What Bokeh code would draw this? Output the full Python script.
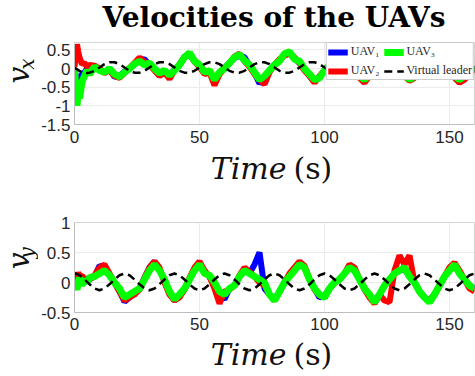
import math
from bokeh.plotting import figure
from bokeh.models import Legend, LegendItem, FixedTicker, Range1d
from bokeh.layouts import column, row
from bokeh.core.properties import value
from bokeh.embed import file_html
from bokeh.resources import INLINE

# ---------------- data ----------------
time_s = [0, 0.5, 1, 1.5, 2, 3, 4, 5, 6,
          8, 10, 12, 14, 16, 18,
          20, 22, 24, 26, 28, 30, 32, 34, 36, 38,
          40, 42, 44, 46, 48, 50, 52, 54, 56, 58,
          60, 62, 64, 66, 68, 70, 72, 74, 76, 78,
          80, 82, 84, 86, 88, 90, 92, 94, 96, 98,
          100, 102, 104, 106, 108, 110, 112, 114, 116, 118,
          120, 122, 124, 126, 128, 130, 132, 134, 136, 138,
          140, 142, 144, 146, 148, 150, 152, 154, 156, 158,
          160]

vx_uav1 = [0.0, -0.2, -0.4, -0.3, -0.3, -0.15, -0.1, 0.0, -0.05,
           0.05, -0.02, -0.1, -0.02, -0.22, -0.2,
           -0.08, 0.0, 0.12, 0.22, 0.25, 0.1, 0.0, -0.15, -0.08, -0.2,
           -0.02, 0.1, 0.32, 0.38, 0.2, 0.05, -0.12, -0.08, -0.35, -0.12,
           0.02, 0.15, 0.28, 0.35, 0.3, 0.08, -0.12, -0.4, -0.25, -0.05,
           0.1, 0.22, 0.38, 0.4, 0.28, 0.15, -0.02, -0.2, -0.35, -0.22,
           -0.05, 0.1, 0.28, 0.3, 0.18, 0.02, -0.08, -0.22, -0.32, -0.18,
           0.0, 0.15, 0.28, 0.28, 0.12, 0.0, -0.18, -0.3, -0.22, -0.05,
           0.1, 0.25, 0.32, 0.2, 0.02, -0.08, -0.22, -0.33, -0.25, -0.12,
           0.02]
vx_uav2 = [0.05, 0.35, 0.65, 0.45, 0.3, 0.12, 0.15, 0.05, 0.1,
           0.08, 0.0, -0.12, -0.05, -0.2, -0.25,
           -0.12, 0.02, 0.15, 0.3, 0.18, 0.1, -0.05, -0.2, -0.1, -0.28,
           -0.05, 0.12, 0.3, 0.4, 0.18, 0.05, -0.15, -0.1, -0.45, -0.15,
           0.0, 0.15, 0.32, 0.4, 0.2, 0.05, -0.15, -0.3, -0.42, -0.1,
           0.1, 0.25, 0.35, 0.4, 0.3, 0.15, -0.05, -0.2, -0.38, -0.2,
           -0.05, 0.1, 0.3, 0.35, 0.15, 0.0, -0.1, -0.25, -0.38, -0.2,
           0.0, 0.15, 0.3, 0.3, 0.1, 0.0, -0.2, -0.33, -0.25, -0.05,
           0.1, 0.25, 0.35, 0.2, 0.0, -0.1, -0.25, -0.38, -0.3, -0.15,
           0.0]
vx_uav3 = [0.0, -0.5, -1.0, -0.55, -0.8, -0.35, -0.2, -0.05, -0.15,
           0.05, -0.05, -0.1, 0.0, -0.15, -0.22,
           -0.1, 0.0, 0.12, 0.2, 0.1, 0.15, 0.0, -0.12, -0.05, -0.18,
           -0.05, 0.1, 0.3, 0.42, 0.2, 0.1, -0.1, -0.05, -0.3, -0.1,
           0.0, 0.15, 0.3, 0.38, 0.22, 0.1, -0.1, -0.3, -0.2, -0.05,
           0.1, 0.2, 0.4, 0.45, 0.25, 0.2, 0.0, -0.15, -0.3, -0.25,
           -0.05, 0.1, 0.25, 0.3, 0.2, 0.05, -0.05, -0.2, -0.3, -0.15,
           0.0, 0.15, 0.3, 0.25, 0.15, 0.0, -0.15, -0.3, -0.2, -0.05,
           0.1, 0.25, 0.3, 0.2, 0.05, -0.05, -0.2, -0.3, -0.2, -0.1,
           0.05]
vx_leader = [0.03, 0.01, -0.02, -0.04, -0.06, -0.09, -0.11, -0.12, -0.11,
             -0.06, 0.03, 0.12, 0.17, 0.17, 0.12,
             0.03, -0.06, -0.11, -0.11, -0.06, 0.03, 0.12, 0.17, 0.17, 0.12,
             0.03, -0.06, -0.11, -0.11, -0.06, 0.03, 0.12, 0.17, 0.17, 0.12,
             0.03, -0.06, -0.11, -0.11, -0.06, 0.03, 0.12, 0.17, 0.17, 0.12,
             0.03, -0.06, -0.11, -0.11, -0.06, 0.03, 0.12, 0.17, 0.17, 0.12,
             0.03, -0.06, -0.11, -0.11, -0.06, 0.03, 0.12, 0.17, 0.17, 0.12,
             0.03, -0.06, -0.11, -0.11, -0.06, 0.03, 0.12, 0.17, 0.17, 0.12,
             0.03, -0.06, -0.11, -0.11, -0.06, 0.03, 0.12, 0.17, 0.17, 0.12,
             0.03]

vy_uav1 = [0.1, 0.05, 0.0, 0.1, 0.05, 0.05, 0.0, 0.05, 0.05,
           0.1, 0.28, 0.25, 0.12, 0.0, -0.15,
           -0.32, -0.25, -0.18, -0.1, 0.08, 0.25, 0.35, 0.22, 0.02, -0.18,
           -0.3, -0.22, -0.12, 0.05, 0.22, 0.32, 0.18, 0.1, -0.05, -0.2,
           -0.28, -0.1, -0.05, 0.1, 0.22, 0.15, 0.3, 0.5, -0.1, -0.2,
           -0.28, -0.15, 0.0, 0.12, 0.22, 0.33, 0.25, 0.05, -0.1, -0.25,
           -0.22, -0.1, 0.0, 0.05, 0.15, 0.28, 0.2, 0.05, -0.1, -0.22,
           -0.3, -0.2, -0.05, 0.05, 0.15, 0.2, 0.22, 0.1, 0.0, -0.15,
           -0.25, -0.3, -0.2, -0.05, 0.1, 0.2, 0.3, 0.15, 0.05, -0.05,
           -0.1]
vy_uav2 = [0.15, 0.1, 0.05, 0.17, 0.1, 0.12, 0.02, 0.08, 0.05,
           0.12, 0.25, 0.3, 0.15, 0.0, -0.15,
           -0.3, -0.25, -0.2, -0.12, 0.08, 0.25, 0.35, 0.25, 0.0, -0.2,
           -0.3, -0.25, -0.12, 0.08, 0.25, 0.35, 0.2, 0.1, -0.1, -0.35,
           -0.15, -0.12, -0.05, 0.12, 0.25, 0.18, 0.1, 0.0, -0.05, -0.2,
           -0.3, -0.15, 0.0, 0.15, 0.25, 0.35, 0.28, 0.05, -0.12, -0.22,
           -0.25, -0.1, 0.0, 0.05, 0.15, 0.3, 0.25, 0.05, -0.12, -0.25,
           -0.35, -0.2, -0.3, -0.33, 0.2, 0.45, 0.3, 0.45, 0.0, -0.15,
           -0.25, -0.3, -0.2, -0.05, 0.1, 0.25, 0.33, 0.2, 0.05, -0.1,
           -0.15]
vy_uav3 = [0.05, -0.05, -0.12, 0.0, 0.08, -0.05, 0.05, 0.0, 0.08,
           0.1, 0.15, 0.2, 0.12, 0.0, -0.1,
           -0.25, -0.2, -0.15, -0.1, 0.05, 0.2, 0.3, 0.2, 0.05, -0.15,
           -0.28, -0.2, -0.1, 0.05, 0.2, 0.3, 0.15, 0.12, 0.0, -0.15,
           -0.2, -0.1, -0.05, 0.1, 0.2, 0.15, 0.1, 0.05, 0.0, -0.2,
           -0.3, -0.15, 0.0, 0.1, 0.2, 0.3, 0.25, 0.05, -0.1, -0.2,
           -0.25, -0.1, 0.0, 0.05, 0.15, 0.25, 0.2, 0.05, -0.1, -0.2,
           -0.33, -0.2, -0.05, 0.05, 0.15, 0.2, 0.25, 0.1, 0.0, -0.15,
           -0.25, -0.33, -0.2, -0.05, 0.1, 0.2, 0.3, 0.15, 0.05, -0.05,
           -0.1]
vy_leader = [0.15, 0.15, 0.14, 0.13, 0.12, 0.09, 0.05, 0.01, -0.03,
             -0.10, -0.13, -0.10, -0.03, 0.05, 0.12,
             0.15, 0.12, 0.05, -0.03, -0.10, -0.13, -0.10, -0.03, 0.05, 0.12,
             0.15, 0.12, 0.05, -0.03, -0.10, -0.13, -0.10, -0.03, 0.05, 0.12,
             0.15, 0.12, 0.05, -0.03, -0.10, -0.13, -0.10, -0.03, 0.05, 0.12,
             0.15, 0.12, 0.05, -0.03, -0.10, -0.13, -0.10, -0.03, 0.05, 0.12,
             0.15, 0.12, 0.05, -0.03, -0.10, -0.13, -0.10, -0.03, 0.05, 0.12,
             0.15, 0.12, 0.05, -0.03, -0.10, -0.13, -0.10, -0.03, 0.05, 0.12,
             0.15, 0.12, 0.05, -0.03, -0.10, -0.13, -0.10, -0.03, 0.05, 0.12,
             0.15]

x_ticks = [0, 50, 100, 150]
vx_ticks = [-1.5, -1, -0.5, 0, 0.5]
vx_tick_labels = ["-1.5", "-1", "-0.5", "0", "0.5"]
vy_ticks = [-0.5, 0, 0.5, 1]
vy_tick_labels = ["-0.5", "0", "0.5", "1"]
legend_labels = ["UAV\u2081", "UAV\u2082", "UAV\u2083", "Virtual leader"]
title_text = "Velocities of the UAVs"
xlabel_main, xlabel_unit = "Time", "(s)"

C_BLUE, C_RED, C_GREEN = "#0000ff", "#ff0000", "#00ff00"
TICK_FONT = "Liberation Sans"
SERIF = "DejaVu Serif"
TXT = "#111111"
W = 475
LAB_W = 38


def make_fig(h, yr, bt, bb, yticks, ylabels, xstand):
    p = figure(width=W - LAB_W, height=h, x_range=Range1d(0, 160), y_range=Range1d(*yr),
               output_backend="svg", toolbar_location=None, title=None,
               min_border_left=34, min_border_right=1,
               min_border_top=bt, min_border_bottom=bb)
    p.outline_line_color = "#d4d4d4"
    p.background_fill_color = "white"
    p.border_fill_color = "white"
    p.xaxis.ticker = FixedTicker(ticks=x_ticks)
    p.yaxis.ticker = FixedTicker(ticks=yticks)
    p.yaxis.major_label_overrides = {t: s for t, s in zip(yticks, ylabels)}
    for ax in (p.xaxis[0], p.yaxis[0]):
        ax.axis_line_color = "#bdbdbd"
        ax.major_tick_line_color = None
        ax.minor_tick_line_color = None
        ax.major_tick_out = 0
        ax.major_tick_in = 0
        ax.major_label_text_font = TICK_FONT
        ax.major_label_text_font_size = "17px"
        ax.major_label_text_color = "#262626"
    p.xaxis.major_label_standoff = xstand
    p.yaxis.major_label_standoff = 4
    p.xgrid.grid_line_color = "#ebebeb"
    p.ygrid.grid_line_color = "#ebebeb"
    return p


def text_fig(w, h):
    f = figure(width=w, height=h, x_range=Range1d(0, w), y_range=Range1d(0, h),
               output_backend="svg", toolbar_location=None, title=None,
               x_axis_location=None, y_axis_location=None, min_border=0)
    f.grid.visible = False
    f.outline_line_color = None
    f.background_fill_color = "white"
    f.border_fill_color = "white"
    return f


def time_fig(h, ycen):
    f = text_fig(W, h)
    f.text(x=[286], y=[ycen], text=[xlabel_main], text_font=value(SERIF),
           text_font_style="italic", text_font_size="30px", text_align="right",
           text_baseline="alphabetic", text_color=TXT)
    f.text(x=[293], y=[ycen], text=[xlabel_unit], text_font=value(SERIF),
           text_font_size="30px", text_align="left",
           text_baseline="alphabetic", text_color=TXT)
    return f


def ylab_fig(h, main, sub, y_main, y_sub):
    f = text_fig(LAB_W, h)
    f.text(x=[18.1], y=[y_main], text=[main], angle=math.pi / 2, text_font=value(SERIF),
           text_font_style="italic", text_font_size="30px", text_align="left",
           text_baseline="alphabetic", text_color=TXT)
    f.text(x=[26.1], y=[y_sub], text=[sub], angle=math.pi / 2, text_font=value(SERIF),
           text_font_style="italic", text_font_size="20px", text_align="left",
           text_baseline="alphabetic", text_color=TXT)
    return f


# ---------------- title ----------------
t_fig = text_fig(W, 42)
t_fig.text(x=[273.5], y=[25.5], text=[title_text], text_font=value(SERIF),
           text_font_style="bold", text_font_size="28px", text_align="center",
           text_baseline="alphabetic", text_color="black")

# ---------------- top: v_x ----------------
p1 = make_fig(108, (-1.5, 0.7), 0, 26, vx_ticks, vx_tick_labels, 6)
r1 = p1.line(time_s, vx_uav1, line_color=C_BLUE, line_width=6)
r2 = p1.line(time_s, vx_uav2, line_color=C_RED, line_width=6)
r3 = p1.line(time_s, vx_uav3, line_color=C_GREEN, line_width=7)
r4 = p1.line(time_s, vx_leader, line_color="black", line_width=2.5, line_dash="8 5")

legend = Legend(items=[LegendItem(label=legend_labels[0], renderers=[r1]),
                       LegendItem(label=legend_labels[1], renderers=[r2]),
                       LegendItem(label=legend_labels[2], renderers=[r3]),
                       LegendItem(label=legend_labels[3], renderers=[r4])],
                ncols=2, location="top_right", margin=0, padding=1, spacing=4,
                glyph_width=20, glyph_height=8, label_height=8, label_standoff=3,
                label_text_font="Liberation Serif", label_text_font_size="12px",
                label_text_color="#262626",
                border_line_color="#9a9a9a", background_fill_color="white",
                background_fill_alpha=1.0)
p1.add_layout(legend)
lab1 = ylab_fig(108, "v", "x", 54, 72)
time1 = time_fig(36, 18)

# ---------------- bottom: v_y ----------------
p2 = make_fig(150, (-0.5, 1.0), 36, 24, vy_ticks, vy_tick_labels, 5)
p2.line(time_s, vy_uav1, line_color=C_BLUE, line_width=6)
p2.line(time_s, vy_uav2, line_color=C_RED, line_width=6)
p2.line(time_s, vy_uav3, line_color=C_GREEN, line_width=7)
p2.line(time_s, vy_leader, line_color="black", line_width=2.5, line_dash="8 5")
lab2 = ylab_fig(150, "v", "y", 72, 90)
time2 = time_fig(40, 22)

layout = column(t_fig, row(lab1, p1, spacing=0), time1,
                row(lab2, p2, spacing=0), time2, spacing=0)
open("out.html", "w").write(file_html(layout, INLINE))
